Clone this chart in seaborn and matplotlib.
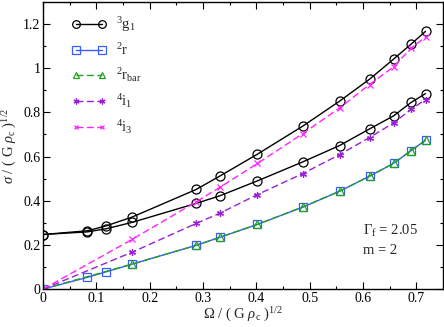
import numpy as np
import pandas as pd
import matplotlib
matplotlib.use("Agg")
import matplotlib.pyplot as plt
import seaborn as sns

# --- data ---
x_full = [0.0, 0.083, 0.118, 0.167, 0.287, 0.331, 0.402, 0.487, 0.556, 0.612, 0.657, 0.690, 0.717]
x_part = [0.0, 0.167, 0.287, 0.331, 0.402, 0.487, 0.556, 0.612, 0.657, 0.690, 0.717]

g1_upper = [0.247, 0.264, 0.286, 0.326, 0.451, 0.511, 0.611, 0.738, 0.851, 0.950, 1.041, 1.109, 1.167]
g1_lower = [0.247, 0.259, 0.273, 0.302, 0.388, 0.422, 0.490, 0.576, 0.650, 0.725, 0.784, 0.845, 0.885]
r_vals = [0.0, 0.053, 0.078, 0.113, 0.198, 0.234, 0.293, 0.371, 0.443, 0.511, 0.569, 0.627, 0.674]
rbar_vals = [0.0, 0.113, 0.198, 0.234, 0.293, 0.372, 0.443, 0.511, 0.569, 0.627, 0.674]
i1_vals = [0.0, 0.167, 0.297, 0.343, 0.428, 0.523, 0.609, 0.686, 0.752, 0.814, 0.858]
i3_vals = [0.0, 0.225, 0.395, 0.460, 0.569, 0.704, 0.820, 0.926, 1.006, 1.090, 1.142]

labels = [r"$^{3}\mathrm{g}_{1}$", r"$^{2}\mathrm{r}$", r"$^{2}\mathrm{r}_{\mathrm{bar}}$",
          r"$^{4}\mathrm{i}_{1}$", r"$^{4}\mathrm{i}_{3}$"]

sns.set_theme(style="ticks")
plt.rcParams["font.family"] = ["Liberation Serif", "DejaVu Serif"]
plt.rcParams["mathtext.fontset"] = "custom"
plt.rcParams["mathtext.rm"] = "Liberation Serif"
plt.rcParams["mathtext.it"] = "Liberation Serif:italic"

fig = plt.figure(figsize=(4.44, 3.27), dpi=100)
ax = fig.add_axes([0.097, 0.116, 0.901, 0.878])

black = "black"
blue = "#3a5cff"
green = "#22a022"
purple = "#9a1fd6"
magenta = "#ff22ff"

common = dict(ax=ax, linewidth=1.0, markersize=6.5, markeredgewidth=0.9)

sns.lineplot(x=x_full, y=g1_upper, color=black, marker="o", markerfacecolor="none",
             markeredgecolor=black, linestyle="-", label=labels[0], **common)
sns.lineplot(x=x_full, y=g1_lower, color=black, marker="o", markerfacecolor="none",
             markeredgecolor=black, linestyle="-", label="_nolegend_", **common)
sns.lineplot(x=x_full, y=r_vals, color=blue, marker="s", markerfacecolor="none",
             markeredgecolor=blue, linestyle="-", label=labels[1],
             ax=ax, linewidth=1.0, markersize=6.0, markeredgewidth=0.9)
sns.lineplot(x=x_part, y=rbar_vals, color=green, marker="^", markerfacecolor="none",
             markeredgecolor=green, linestyle=(0, (5, 2.5)), label=labels[2],
             ax=ax, linewidth=1.0, markersize=5.5, markeredgewidth=0.9)
sns.lineplot(x=x_part, y=i1_vals, color=purple, marker=(6, 2, 0), markerfacecolor="none",
             markeredgecolor=purple, linestyle=(0, (5, 2.5)), label=labels[3],
             ax=ax, linewidth=1.0, markersize=5.0, markeredgewidth=0.9)
sns.lineplot(x=x_part, y=i3_vals, color=magenta, marker="x", markerfacecolor="none",
             markeredgecolor=magenta, linestyle=(0, (5, 2.5)), label=labels[4],
             ax=ax, linewidth=1.0, markersize=4.0, markeredgewidth=0.9)

ax.set_xlim(0, 0.75)
ax.set_ylim(0, 1.3)
ax.set_xticks(np.arange(0, 0.71, 0.1))
ax.set_xticklabels(["0", "0.1", "0.2", "0.3", "0.4", "0.5", "0.6", "0.7"])
ax.set_xticks(np.arange(0.05, 0.75, 0.1), minor=True)
ax.set_yticks(np.arange(0, 1.21, 0.2))
ax.set_yticklabels(["0", "0.2", "0.4", "0.6", "0.8", "1", "1.2"])
ax.set_yticks(np.arange(0.1, 1.3, 0.2), minor=True)
ax.tick_params(which="both", direction="in", top=True, right=True, labelsize=10,
               colors="black", width=0.8, pad=2)
ax.tick_params(which="major", length=5)
ax.tick_params(which="minor", length=2.5)
for s in ax.spines.values():
    s.set_linewidth(1.0)
    s.set_color("black")

ax.set_xlabel(r"$\Omega$ / ( G $\rho_{\mathrm{c}}$ )$^{1/2}$", fontsize=10.5, labelpad=1)
ax.set_ylabel(r"$\sigma$ / ( G $\rho_{\mathrm{c}}$ )$^{1/2}$", fontsize=10.5, labelpad=3)

ax.text(0.80, 0.202, r"$\Gamma_{\mathrm{f}}$ = 2.05", transform=ax.transAxes,
        fontsize=10.5, ha="left", va="center")
ax.text(0.80, 0.136, "m = 2", transform=ax.transAxes, fontsize=10.5, ha="left", va="center")

leg = ax.legend(loc="upper left", bbox_to_anchor=(0.05, 0.985), frameon=False,
                fontsize=10.5, handlelength=2.4, numpoints=2, labelspacing=0.55,
                handletextpad=0.6, borderaxespad=0.2, markerscale=0.85)

fig.savefig("out.png", dpi=100)
